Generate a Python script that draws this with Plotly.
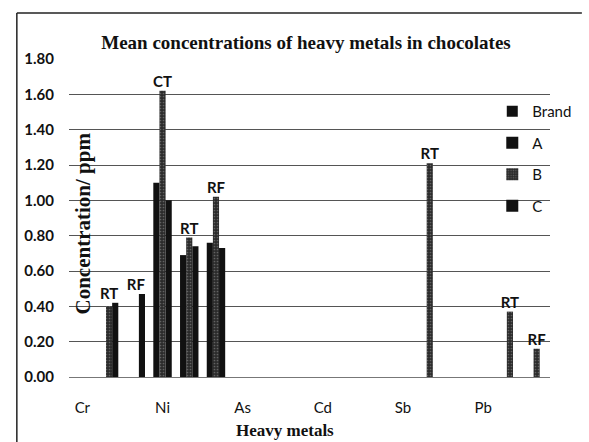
import plotly.graph_objects as go

# ---- data ----
metals = ["Cr", "Ni", "As", "Cd", "Sb", "Pb"]
brand_order = ["CT", "RT", "RF"]          # sub-slots inside each metal
group_metal = ["Cr", "Cr", "Ni", "Ni", "Ni", "Sb", "Pb", "Pb"]
group_brand = ["RT", "RF", "CT", "RT", "RF", "RT", "RT", "RF"]
series_A = [None, None, 1.10, 0.69, 0.76, None, None, None]
series_B = [0.40, None, 1.62, 0.79, 1.02, 1.21, 0.37, 0.16]
series_C = [0.42, 0.47, 1.00, 0.74, 0.73, None, None, None]

# slot index on the axis (metal index * 3 + brand slot)
slots = [metals.index(m) * len(brand_order) + brand_order.index(b)
         for m, b in zip(group_metal, group_brand)]
metal_ticks = [i * len(brand_order) for i in range(len(metals))]

W = 0.23
FONT_TICK = "Lato"
FONT_SERIF = "Liberation Serif"

fig = go.Figure()

# legend-only entry for "Brand"
fig.add_trace(go.Scatter(x=[None], y=[None], mode="markers", name="Brand",
                         marker=dict(symbol="square", size=11, color="#111111")))

fig.add_trace(go.Bar(name="A", x=slots, y=series_A, width=W, offset=-1.5 * W,
                     marker=dict(color="#111111", line=dict(width=0))))
fig.add_trace(go.Bar(name="B", x=slots, y=series_B, width=W, offset=-0.5 * W,
                     marker=dict(color="#2b2b2b", line=dict(width=0),
                                 pattern=dict(shape=".", fgcolor="#9a9a9a",
                                              bgcolor="#2b2b2b", size=3, solidity=0.25))))
fig.add_trace(go.Bar(name="C", x=slots, y=series_C, width=W, offset=0.5 * W,
                     marker=dict(color="#111111", line=dict(width=0))))

# brand labels above each group
group_top = [max(v for v in (a, b, c) if v is not None)
             for a, b, c in zip(series_A, series_B, series_C)]
fig.add_trace(go.Scatter(x=slots, y=group_top, mode="text", text=group_brand,
                         textposition="top center", showlegend=False,
                         textfont=dict(family=FONT_TICK, size=15, color="#111111", weight=700),
                         cliponaxis=False, hoverinfo="skip"))

fig.update_layout(
    width=589, height=442,
    margin=dict(l=69, r=22, t=59, b=65),
    paper_bgcolor="white", plot_bgcolor="white",
    barmode="overlay",
    title=dict(text="Mean concentrations of heavy metals in chocolates",
               x=306 / 589, xanchor="center", y=1 - 42 / 442, yanchor="middle",
               font=dict(family=FONT_SERIF, size=19, color="#111111", weight=700)),
    legend=dict(x=0.88, y=0.887, xanchor="left", yanchor="top",
                bgcolor="rgba(0,0,0,0)", tracegroupgap=9,
                font=dict(family=FONT_TICK, size=15, color="#111111")),
    showlegend=True,
)
fig.update_layout(legend_traceorder="grouped")
for i, tr in enumerate(fig.data[:4]):
    tr.legendgroup = "g%d" % i

fig.update_xaxes(range=[-0.5, len(metals) * len(brand_order) - 0.5],
                 tickvals=metal_ticks, ticktext=metals, showgrid=False,
                 zeroline=False, showline=False, ticks="",
                 ticklabelstandoff=20,
                 tickfont=dict(family=FONT_TICK, size=15, color="#111111"))
fig.update_yaxes(range=[0, 1.8], dtick=0.2, tickformat=".2f",
                 showgrid=True, gridcolor="#555555", gridwidth=1,
                 zeroline=True, zerolinecolor="#777777", zerolinewidth=1,
                 showline=False, ticks="", ticklabelstandoff=14,
                 tickfont=dict(family=FONT_TICK, size=15, color="#111111", weight=700))

# axis titles
fig.add_annotation(text="Concentration/ ppm", xref="paper", yref="paper",
                   x=(83 - 69) / 498, y=(377 - 224) / 318, textangle=-90,
                   showarrow=False, xanchor="center", yanchor="middle",
                   font=dict(family=FONT_SERIF, size=21, color="#111111", weight=700))
fig.add_annotation(text="Heavy metals", xref="paper", yref="paper",
                   x=(293 - 69) / 498, y=(377 - 430) / 318,
                   showarrow=False, xanchor="center", yanchor="middle",
                   font=dict(family=FONT_SERIF, size=17, color="#111111", weight=700))

# chart-area frame (scanned page edge)
fig.add_shape(type="line", xref="paper", yref="paper",
              x0=(15 - 69) / 498, x1=(600 - 69) / 498,
              y0=(377 - 13) / 318, y1=(377 - 13) / 318,
              line=dict(color="#222222", width=1.5))
fig.add_shape(type="line", xref="paper", yref="paper",
              x0=(15 - 69) / 498, x1=(15 - 69) / 498,
              y0=(377 - 13) / 318, y1=(377 - 450) / 318,
              line=dict(color="#222222", width=1.5))

fig.write_html("out.html",
               config={"displayModeBar": False},
               post_script="document.body.style.margin='0';"
                           "document.body.style.overflow='hidden';")
